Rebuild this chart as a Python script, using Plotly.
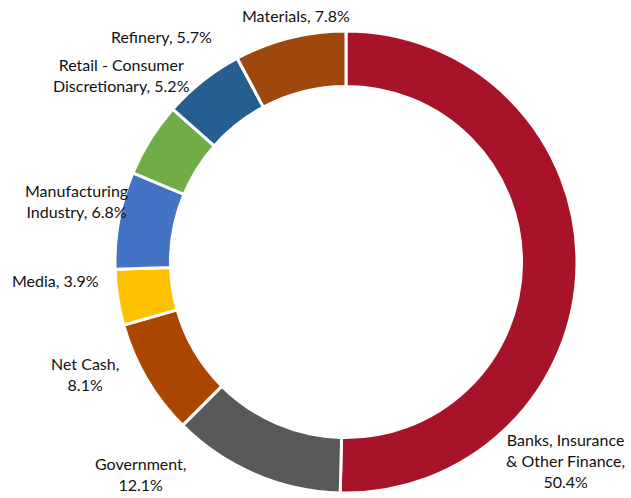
import plotly.graph_objects as go

categories = ["Banks, Insurance<br>& Other Finance", "Government", "Net Cash", "Media",
              "Manufacturing<br>Industry", "Retail - Consumer<br>Discretionary", "Refinery", "Materials"]
values = [50.4, 12.1, 8.1, 3.9, 6.8, 5.2, 5.7, 7.8]
colors = ["#A71328", "#595959", "#AA4600", "#FFC000", "#4472C4", "#70AD47", "#255E91", "#9E480E"]

# label text layout (paper coords) and line-break choices
label_text = ["Banks, Insurance<br>& Other Finance,<br>{v}%", "Government,<br>{v}%", "Net Cash,<br>{v}%",
              "Media, {v}%", "Manufacturing<br>Industry, {v}%", "Retail - Consumer<br>Discretionary, {v}%",
              "Refinery, {v}%", "Materials, {v}%"]
label_px = [(565, 460), (140, 474), (85, 374), (55, 280), (76, 201), (121, 75), (162, 36), (296, 16)]

W, H = 631, 498
cx, cy, R = 346, 262, 231

fig = go.Figure(go.Pie(
    labels=categories, values=values, sort=False, direction="clockwise", rotation=0,
    hole=0.76, marker=dict(colors=colors, line=dict(color="white", width=3)),
    textinfo="none", hoverinfo="label+percent",
    domain=dict(x=[(cx - R) / W, (cx + R) / W], y=[(H - cy - R) / H, (H - cy + R) / H]),
))

for t, v, (px, py) in zip(label_text, values, label_px):
    fig.add_annotation(text=t.format(v=v), x=px / W, y=1 - py / H, xref="paper", yref="paper",
                       showarrow=False, xanchor="center", yanchor="middle", align="center",
                       font=dict(family="Lato", size=16, color="#111111"))

fig.update_layout(width=W, height=H, margin=dict(l=0, r=0, t=0, b=0), showlegend=False,
                  paper_bgcolor="white", plot_bgcolor="white")
fig.write_html("out.html", config={"displayModeBar": False},
               post_script="document.body.style.margin='0px';document.body.style.overflow='hidden';")
